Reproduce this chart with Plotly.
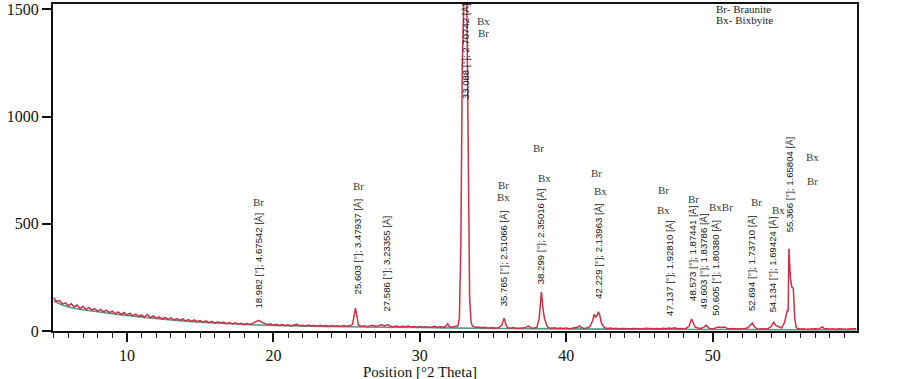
import plotly.graph_objects as go

# ---------------- data ----------------
two_theta = [
    5.0, 5.2, 5.4, 5.6, 5.8, 6.0, 6.2, 6.4, 6.6, 6.8, 7.0, 7.2, 7.4, 7.6, 7.8, 8.0, 8.2, 8.4, 8.6, 8.8, 9.0, 9.2, 9.4, 9.6, 9.8,
    10.0, 10.2, 10.4, 10.6, 10.8, 11.0, 11.2, 11.4, 11.6, 11.8, 12.0, 12.2, 12.4, 12.6, 12.8, 13.0, 13.2, 13.4, 13.6, 13.8, 14.0, 14.2, 14.4, 14.6, 14.8,
    15.0, 15.2, 15.4, 15.6, 15.8, 16.0, 16.2, 16.4, 16.6, 16.8, 17.0, 17.2, 17.4, 17.6, 17.8, 18.0, 18.2, 18.4, 18.6, 18.8, 19.0, 19.2, 19.4, 19.6, 19.8,
    20.0, 20.2, 20.4, 20.6, 20.8, 21.0, 21.2, 21.4, 21.6, 21.8, 22.0, 22.2, 22.4, 22.6, 22.8, 23.0, 23.2, 23.4, 23.6, 23.8, 24.0, 24.2, 24.4, 24.6, 24.8,
    25.0, 25.2, 25.4, 25.5, 25.6, 25.7, 25.8, 26.0, 26.2, 26.4, 26.6, 26.8, 27.0, 27.2, 27.4, 27.6, 27.8, 28.0, 28.2, 28.4, 28.6, 28.8, 29.0, 29.2, 29.4, 29.6, 29.8,
    30.0, 30.2, 30.4, 30.6, 30.8, 31.0, 31.2, 31.4, 31.6, 31.8, 31.9, 32.0, 32.2, 32.4, 32.6, 32.7, 32.8, 32.9, 33.0, 33.1, 33.2, 33.3, 33.4, 33.5, 33.6, 33.8, 34.0, 34.2, 34.4, 34.6, 34.8,
    35.0, 35.2, 35.4, 35.6, 35.75, 35.9, 36.0, 36.2, 36.4, 36.6, 36.8, 37.0, 37.2, 37.4, 37.6, 37.8, 38.0, 38.15, 38.3, 38.4, 38.5, 38.6, 38.7, 38.8, 39.0, 39.2, 39.4, 39.6, 39.8,
    40.0, 40.2, 40.4, 40.6, 40.8, 40.9, 41.0, 41.2, 41.4, 41.6, 41.8, 41.9, 42.0, 42.1, 42.2, 42.3, 42.4, 42.6, 42.8, 43.0, 43.2, 43.4, 43.6, 43.8, 44.0, 44.2, 44.4, 44.6, 44.8,
    45.0, 45.2, 45.4, 45.6, 45.8, 46.0, 46.2, 46.4, 46.6, 46.8, 47.0, 47.2, 47.4, 47.6, 47.8, 48.0, 48.2, 48.4, 48.55, 48.7, 48.8, 49.0, 49.2, 49.4, 49.55, 49.7, 49.8,
    50.0, 50.2, 50.4, 50.6, 50.8, 51.0, 51.2, 51.4, 51.6, 51.8, 52.0, 52.2, 52.4, 52.55, 52.7, 52.85, 53.0, 53.2, 53.4, 53.6, 53.8, 54.0, 54.15, 54.3, 54.5, 54.7,
    54.9, 55.0, 55.1, 55.15, 55.2, 55.3, 55.4, 55.5, 55.6, 55.7, 55.85,
    56.0, 56.2, 56.4, 56.6, 56.8, 57.0, 57.2, 57.4, 57.5, 57.6, 57.8, 58.0, 58.2, 58.4, 58.6, 58.8, 59.0, 59.2, 59.4, 59.6, 59.8,
]
counts = [
    155, 138, 142, 125, 131, 118, 127, 112, 121, 104, 115, 99, 110, 97, 104, 92, 101, 88, 97, 85, 92, 80, 89, 77, 86,
    74, 83, 71, 79, 68, 75, 64, 78, 62, 70, 59, 66, 56, 64, 54, 61, 51, 58, 49, 57, 47, 53, 45, 52, 44,
    49, 41, 47, 39, 45, 37, 43, 36, 42, 34, 39, 33, 38, 31, 36, 30, 35, 31, 37, 42, 50, 41, 33, 29, 33,
    27, 31, 26, 30, 25, 29, 24, 28, 31, 25, 27, 23, 28, 24, 26, 22, 27, 23, 25, 21, 26, 22, 24, 21, 25,
    22, 24, 30, 70, 107, 72, 28, 21, 24, 20, 23, 27, 21, 25, 29, 24, 30, 22, 20, 23, 19, 22, 20, 23, 19, 21, 18,
    21, 18, 20, 17, 19, 22, 18, 20, 17, 24, 33, 22, 18, 20, 24, 60, 400, 1250, 1700, 1800, 1600, 900, 150, 40, 22, 17, 19, 15, 17, 14, 16,
    15, 13, 16, 28, 60, 26, 15, 13, 16, 12, 14, 13, 15, 24, 14, 13, 18, 60, 182, 110, 62, 40, 22, 15, 13, 15, 12, 14, 12,
    14, 11, 13, 15, 19, 24, 18, 12, 14, 20, 48, 78, 64, 72, 90, 70, 36, 16, 12, 14, 11, 13, 10, 12, 11, 13, 10, 12, 11,
    12, 10, 13, 11, 12, 10, 12, 10, 13, 11, 14, 12, 15, 11, 12, 10, 13, 24, 56, 28, 18, 14, 12, 18, 27, 16, 11,
    10, 14, 18, 16, 19, 12, 10, 12, 9, 11, 10, 12, 15, 26, 37, 20, 11, 9, 11, 10, 12, 22, 41, 26, 20, 14,
    40, 75, 98, 92, 383, 250, 205, 200, 60, 16, 10,
    9, 11, 8, 10, 9, 11, 9, 15, 19, 12, 10, 9, 11, 8, 10, 9, 11, 8, 10, 9, 11,
]

bg_theta = [5.0, 6.0, 8.0, 10.0, 12.0, 14.0, 16.0, 18.0, 20.0, 25.0, 30.0, 35.0, 40.0, 45.0, 50.0, 55.0, 59.8]
bg_counts = [140, 112, 90, 73, 58, 46, 37, 31, 26, 20, 16, 12, 10, 8, 7, 6, 5]

peak_pos = [18.982, 25.603, 27.586, 33.088, 35.765, 38.299, 42.229, 47.137, 48.573, 49.603, 50.605, 52.694, 54.134, 55.366]
d_spacing = ["4.67542", "3.47937", "3.23355", "2.70742", "2.51066", "2.35016", "2.13963",
             "1.92810", "1.87441", "1.83786", "1.80380", "1.73710", "1.69424", "1.65804"]

phase_text = ["Br", "Br", "Bx", "Br", "Br", "Bx", "Br", "Bx", "Br", "Bx", "Br", "Bx", "Br", "BxBr", "Br", "Bx", "Bx", "Br"]

# ---------------- layout-only placement (not data) ----------------
label_base = [98, 168, 84, 1077, 112, 215, 145, 65, 135, 98, 65, 89, 84, 457]
label_shift = [0, 3, 2, 0, 0, 0, 0, -2, 0, -3, -7, 0, 0, -2]
phase_x = [19.01, 25.84, 34.37, 34.37, 35.73, 35.73, 38.12, 38.53, 42.08, 42.36, 46.66, 46.66, 48.70, 50.55, 53.0, 54.5, 56.83, 56.83]
phase_y = [600, 676, 1446, 1390, 680, 626, 853, 714, 735, 652, 658, 564, 614, 578, 603, 562, 812, 700]

serif = "Liberation Serif, Times New Roman, serif"
sans = "Liberation Sans, Arial, sans-serif"

fig = go.Figure()
fig.add_trace(go.Scatter(x=bg_theta, y=bg_counts, mode="lines",
                         line=dict(color="#4f9e84", width=1.6, shape="spline"),
                         hoverinfo="skip", showlegend=False))
fig.add_trace(go.Scatter(x=two_theta, y=counts, mode="lines",
                         line=dict(color="#d12f45", width=1.5),
                         showlegend=False))

annotations = []
for p, d, yb, sh in zip(peak_pos, d_spacing, label_base, label_shift):
    annotations.append(dict(
        x=p, y=yb, xref="x", yref="y", text=f"{p:.3f} [°]; {d} [Å]",
        textangle=-90, showarrow=False, xanchor="center", yanchor="bottom",
        xshift=sh, borderpad=0,
        font=dict(family=sans, size=9.6, color="#151515")))
for t, px, py in zip(phase_text, phase_x, phase_y):
    annotations.append(dict(
        x=px, y=py, xref="x", yref="y", text=t, showarrow=False,
        xanchor="center", yanchor="middle", borderpad=0,
        font=dict(family=serif, size=11, color="#3a3a3a")))
annotations.append(dict(x=0.823, y=0.985, xref="paper", yref="paper", text="Br- Braunite",
                        showarrow=False, xanchor="left", yanchor="middle", borderpad=0,
                        font=dict(family=serif, size=11, color="#222")))
annotations.append(dict(x=0.823, y=0.950, xref="paper", yref="paper", text="Bx- Bixbyite",
                        showarrow=False, xanchor="left", yanchor="middle", borderpad=0,
                        font=dict(family=serif, size=11, color="#222")))
annotations.append(dict(x=0.456, y=-0.124, xref="paper", yref="paper", text="Position [°2 Theta]",
                        showarrow=False, xanchor="center", yanchor="middle", borderpad=0,
                        font=dict(family=serif, size=15, color="#111")))

fig.update_layout(
    width=903, height=379,
    margin=dict(l=53, r=46, t=4, b=48, autoexpand=False),
    paper_bgcolor="white", plot_bgcolor="white",
    annotations=annotations,
    xaxis=dict(range=[4.95, 59.85], tickmode="linear", tick0=0, dtick=10,
               ticks="outside", ticklen=9, tickwidth=1.5,
               tickcolor="#111", showline=True, linecolor="#111", linewidth=2, mirror=True,
               showgrid=False, zeroline=False, automargin=False,
               tickfont=dict(family=serif, size=16, color="#111"),
               minor=dict(tickmode="linear", tick0=0, dtick=1, ticks="outside", ticklen=5,
                          tickwidth=1.2, tickcolor="#222", showgrid=False)),
    yaxis=dict(range=[0, 1525], tickmode="linear", tick0=0, dtick=500,
               ticks="outside", ticklen=9, tickwidth=1.5,
               tickcolor="#111", showline=True, linecolor="#111", linewidth=2, mirror=True,
               showgrid=False, zeroline=False, automargin=False,
               tickfont=dict(family=serif, size=16, color="#111")),
)

fig.write_html("out.html", config={"displayModeBar": False},
               post_script="document.body.style.margin='0';document.body.style.overflow='hidden';")
